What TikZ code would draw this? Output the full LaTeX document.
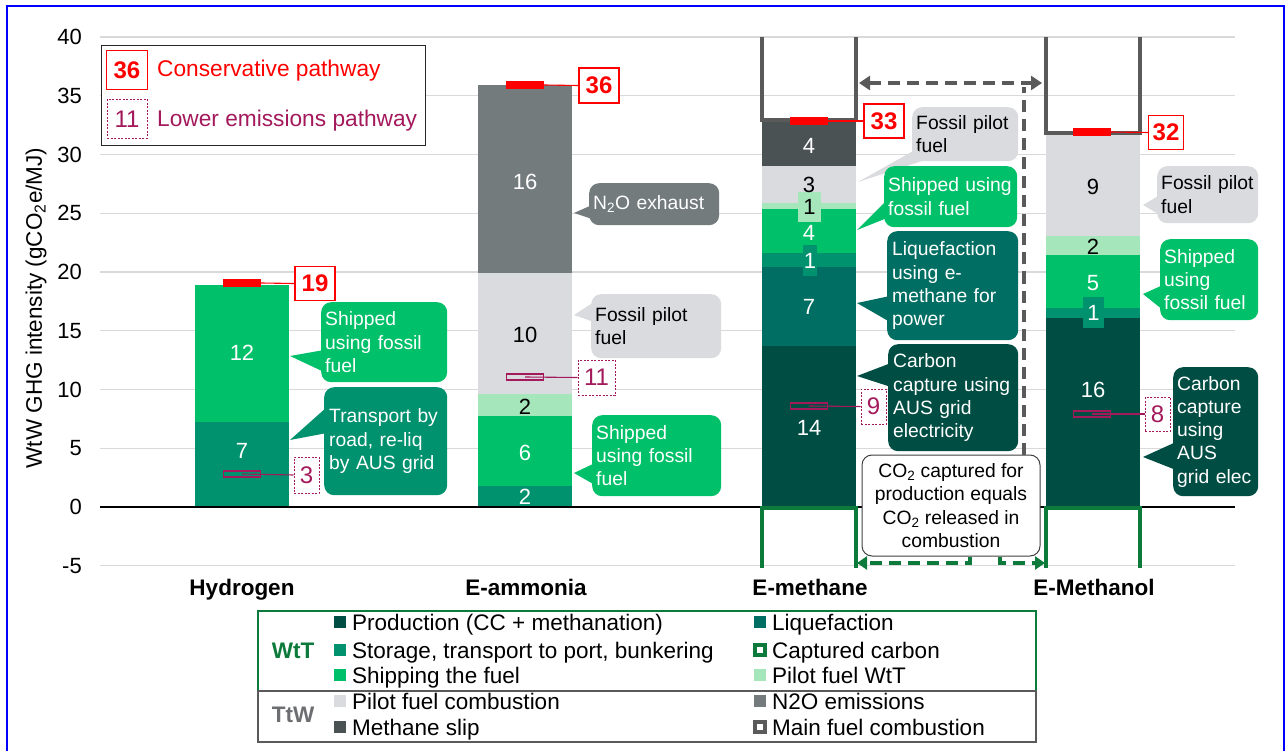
\documentclass[tikz,border=0pt]{standalone}
\usepackage{fontspec}
\setmainfont{Liberation Sans}
\usetikzlibrary{arrows.meta,calc}
\definecolor{cProd}{HTML}{004D43}
\definecolor{cLiq}{HTML}{006E62}
\definecolor{cStor}{HTML}{00916E}
\definecolor{cShip}{HTML}{00C069}
\definecolor{cPilotW}{HTML}{A6E6BB}
\definecolor{cPilotC}{HTML}{D9DBDE}
\definecolor{cNtwo}{HTML}{737B7D}
\definecolor{cSlip}{HTML}{4B5254}
\definecolor{cMain}{HTML}{5A5A5A}
\definecolor{cCap}{HTML}{0B7A3B}
\definecolor{cRed}{HTML}{FF0000}
\definecolor{cLow}{HTML}{A3195B}
\definecolor{cGrid}{HTML}{D9D9D9}
\definecolor{cFrame}{HTML}{0000FF}
\definecolor{cTtw}{HTML}{6D6E71}
\newcommand\fTick{\fontsize{22}{26}\selectfont}
\newcommand\fBar{\fontsize{22}{26}\selectfont}
\newcommand\fCall{\fontsize{19.3}{23.3}\selectfont}
\newcommand\fLeg{\fontsize{22.5}{25.5}\selectfont}
\newcommand\fCat{\fontsize{22.5}{26}\selectfont\bfseries}
\newcommand\fMark{\fontsize{24}{28}\selectfont}
\newcommand\fKey{\fontsize{22.7}{26}\selectfont}
\newcommand\fYlab{\fontsize{22.5}{26}\selectfont}
\begin{document}
\begin{tikzpicture}[x=1pt,y=-1pt,
  barlbl/.style={font=\fBar, text=white, inner sep=0pt},
  barlblk/.style={font=\fBar, text=black, inner sep=0pt},
  callout/.style={rounded corners=10pt, anchor=north west, inner xsep=4pt, inner ysep=0pt, align=left, font=\fCall},
  redmark/.style={fill=cRed, minimum width=38pt, minimum height=8pt, inner sep=0pt},
  redbox/.style={draw=cRed, line width=1.1pt, fill=white, text=cRed, font=\fMark\bfseries, minimum width=40pt, minimum height=34pt, inner sep=0pt},
  lowmark/.style={draw=cLow, line width=1.1pt, minimum width=37pt, minimum height=6pt, inner sep=0pt},
  lowbox/.style={draw=cLow, dash pattern=on 2pt off 1.5pt, line width=1pt, fill=white, text=cLow, font=\fMark, minimum width=25pt, minimum height=35pt, inner sep=0pt},
  cat/.style={font=\fCat, anchor=base, inner sep=0pt},
  legsq/.style={minimum size=12pt, inner sep=0pt},
  legbox/.style={draw, line width=3.5pt, fill=white, minimum size=10pt, inner sep=0pt},
  legtxt/.style={anchor=base west, inner sep=0pt, font=\fLeg},
  mainU/.style={cMain, line width=4pt},
  capU/.style={cCap, line width=4pt},
  gdash/.style={line width=4pt, dash pattern=on 12pt off 7pt}
]
\useasboundingbox (0,0) rectangle (1287,751);
\clip (0,0) rectangle (1287,751);
\fill[white] (0,0) rectangle (1287,751);
\draw[cFrame, line width=2.5pt] (7,780) -- (7,6) -- (1284,6) -- (1284,780);

% grid and ticks
\foreach \v in {-5,5,10,...,40} {\draw[cGrid, line width=1.3pt] (100,{507-11.75*\v}) -- (1235,{507-11.75*\v});}
\foreach \v in {-5,0,5,10,15,20,25,30,35,40} {\node[anchor=east, font=\fTick, inner sep=0pt] at (82,{507-11.75*\v}) {\v};}
\node[rotate=90, font=\fYlab, inner sep=0pt] (ylab) at (36,308) {WtW GHG intensity (gCO\textsubscript{2}e/MJ)};

% Hydrogen bar
\fill[cStor] (195,507) rectangle (289,422);
\fill[cShip] (195,422) rectangle (289,285);
\node[barlbl] (h2a) at (242,353) {12};
\node[barlbl] (h2b) at (242,451) {7};

% E-ammonia bar
\fill[cStor] (478,507) rectangle (572,486);
\fill[cShip] (478,486) rectangle (572,416);
\fill[cPilotW] (478,416) rectangle (572,394);
\fill[cPilotC] (478,394) rectangle (572,273);
\fill[cNtwo] (478,273) rectangle (572,85);
\node[barlbl] (nha) at (525,497) {2};
\node[barlbl] (nhb) at (525,453) {6};
\node[barlblk] (nhc) at (525,407) {2};
\node[barlblk] (nhd) at (525,335) {10};
\node[barlbl] (nhe) at (525,182) {16};

% E-methane bar
\fill[cProd] (762,507) rectangle (856,346);
\fill[cLiq] (762,346) rectangle (856,267);
\fill[cStor] (762,267) rectangle (856,253);
\fill[cShip] (762,253) rectangle (856,209);
\fill[cPilotW] (762,209) rectangle (856,203);
\fill[cPilotC] (762,203) rectangle (856,166);
\fill[cSlip] (762,166) rectangle (856,120);
\node[barlbl] (mea) at (809,428) {14};
\node[barlbl] (meb) at (809,307) {7};
\node[fill=cStor, text=white, minimum width=14pt, minimum height=31pt, inner sep=0pt, font=\fBar] (mec) at (810,261) {1};
\node[barlbl] (med) at (809,233) {4};
\node[fill=cPilotW, text=black, minimum width=23pt, minimum height=30pt, inner sep=0pt, font=\fBar] (mee) at (809.5,207) {1};
\node[barlblk] (mef) at (809,185) {3};
\node[barlbl] (meg) at (809,146) {4};

% E-methanol bar
\fill[cProd] (1046,507) rectangle (1140,318);
\fill[cStor] (1046,318) rectangle (1140,308);
\fill[cShip] (1046,308) rectangle (1140,255);
\fill[cPilotW] (1046,255) rectangle (1140,236);
\fill[cPilotC] (1046,236) rectangle (1140,133);
\node[barlbl] (moa) at (1093,390) {16};
\node[fill=cStor, text=white, minimum width=21pt, minimum height=31pt, inner sep=0pt, font=\fBar] (mob) at (1093.5,312.5) {1};
\node[barlbl] (moc) at (1093,283) {5};
\node[barlblk] (mod) at (1093,247) {2};
\node[barlblk] (moe) at (1093,187) {9};

% zero axis
\draw[black, line width=2pt] (100,507) -- (1235,507);

% main fuel combustion outlines
\draw[mainU] (762,37) -- (762,120) -- (856,120) -- (856,37);
\draw[mainU] (1046,37) -- (1046,133) -- (1140,133) -- (1140,37);
% captured carbon outlines
\draw[capU] (762,568) -- (762,508) -- (856,508) -- (856,568);
\draw[capU] (1046,568) -- (1046,508) -- (1140,508) -- (1140,568);

% red conservative markers
\node[redmark] (rm19) at (242,283) {};
\node[redbox] (rb19) at (315,283.5) {19};
\draw[cRed, line width=1.1pt] (rm19.east) -- (rb19.west);
\node[redmark] (rm36) at (525,85) {};
\node[redbox, minimum height=35pt] (rb36) at (599,85.5) {36};
\draw[cRed, line width=1.1pt] (rm36.east) -- (rb36.west);
\node[redmark] (rm33) at (809,121) {};
\node[redbox] (rb33) at (884,121) {33};
\draw[cRed, line width=1.1pt] (rm33.east) -- (rb33.west);
\node[redmark] (rm32) at (1092,132) {};
\node[redbox, minimum width=35pt] (rb32) at (1166,132.5) {32};
\draw[cRed, line width=1.1pt] (rm32.east) -- (rb32.west);

% lower emissions markers
\node[lowmark] (lm3) at (242,474) {};
\node[lowbox, minimum height=36pt] (lb3) at (306.5,475) {3};
\draw[cLow, line width=1.1pt] (lm3.center) -- (lb3.west);
\node[lowmark] (lm11) at (525,377) {};
\node[lowbox, minimum width=37pt] (lb11) at (596.5,377.5) {11};
\draw[cLow, line width=1.1pt] (lm11.center) -- (lb11.west);
\node[lowmark] (lm9) at (809,406) {};
\node[lowbox] (lb9) at (873.5,406.5) {9};
\draw[cLow, line width=1.1pt] (lm9.center) -- (lb9.west);
\node[lowmark] (lm8) at (1092,414) {};
\node[lowbox, minimum height=34pt] (lb8) at (1157.5,414) {8};
\draw[cLow, line width=1.1pt] (lm8.center) -- (lb8.west);

% callouts - hydrogen
\node[callout, fill=cShip, text=white, text width=118pt, minimum height=80pt] (h2ship) at (321,302) {Shipped\\using fossil\\fuel};
\coordinate (t1) at (290,356);
\fill[cShip] (t1) -- ($(h2ship.north west)+(3,48)$) -- ($(h2ship.north west)+(3,70)$) -- cycle;
\node[callout, fill=cStor, text=white, text width=113pt, minimum height=108pt, inner xsep=5pt] (h2trans) at (324,387) {Transport by\\road, re-liq\\by AUS grid};
\coordinate (t2) at (290,440);
\fill[cStor] (t2) -- ($(h2trans.north west)+(3,20)$) -- ($(h2trans.north west)+(3,46)$) -- cycle;

% callouts - ammonia
\node[callout, fill=cNtwo, text=white, text width=122pt, minimum height=42pt] (nhn) at (589,183) {N\textsubscript{2}O exhaust};
\coordinate (t3) at (574,213);
\fill[cNtwo] (t3) -- ($(nhn.north west)+(3,22)$) -- ($(nhn.north west)+(3,36)$) -- cycle;
\node[callout, fill=cPilotC, text=black, text width=122pt, minimum height=64pt] (nhp) at (591,294) {Fossil pilot\\fuel};
\coordinate (t4) at (574,315);
\fill[cPilotC] (t4) -- ($(nhp.north west)+(3,8)$) -- ($(nhp.north west)+(3,28)$) -- cycle;
\node[callout, fill=cShip, text=white, text width=121pt, minimum height=81pt] (nhs) at (592,415) {Shipped\\using fossil\\fuel};
\coordinate (t5) at (574,473);
\fill[cShip] (t5) -- ($(nhs.north west)+(3,48)$) -- ($(nhs.north west)+(3,70)$) -- cycle;

% callouts - methane
\node[callout, fill=cPilotC, text=black, text width=98pt, minimum height=54pt] (mep) at (912,107) {Fossil pilot\\fuel};
\coordinate (t6) at (858,182);
\fill[cPilotC] (t6) -- ($(mep.south west)+(4,-12)$) -- ($(mep.south west)+(18,-3)$) -- cycle;
\node[callout, fill=cShip, text=white, text width=125pt, minimum height=61pt] (mes) at (884,166) {Shipped using\\fossil fuel};
\coordinate (t7) at (857,230);
\fill[cShip] (t7) -- ($(mes.north west)+(3,34)$) -- ($(mes.north west)+(3,52)$) -- cycle;
\node[callout, fill=cLiq, text=white, text width=121pt, minimum height=109pt, inner xsep=5pt] (mel) at (887,231) {Liquefaction\\using e-\\methane for\\power};
\coordinate (t8) at (857,303);
\fill[cLiq] (t8) -- ($(mel.north west)+(3,65)$) -- ($(mel.north west)+(3,91)$) -- cycle;
\node[callout, fill=cProd, text=white, text width=120pt, minimum height=107pt, inner xsep=5pt] (mecc) at (888,344) {Carbon\\capture using\\AUS grid\\electricity};
\coordinate (t9) at (857,376);
\fill[cProd] (t9) -- ($(mecc.north west)+(3,19)$) -- ($(mecc.north west)+(3,43)$) -- cycle;

% callouts - methanol
\node[callout, fill=cPilotC, text=black, text width=93pt, minimum height=57pt] (mop) at (1157,166) {Fossil pilot\\fuel};
\coordinate (t10) at (1143,205);
\fill[cPilotC] (t10) -- ($(mop.north west)+(3,29)$) -- ($(mop.north west)+(3,49)$) -- cycle;
\node[callout, fill=cShip, text=white, text width=90pt, minimum height=81pt] (mos) at (1160,239) {Shipped\\using\\fossil fuel};
\coordinate (t11) at (1143,294);
\fill[cShip] (t11) -- ($(mos.north west)+(3,46)$) -- ($(mos.north west)+(3,71)$) -- cycle;
\node[callout, fill=cProd, text=white, text width=77pt, minimum height=129pt] (mocc) at (1173,367) {Carbon\\capture\\using\\AUS\\grid elec};
\coordinate (t12) at (1143,457);
\fill[cProd] (t12) -- ($(mocc.north west)+(3,75)$) -- ($(mocc.north west)+(3,103)$) -- cycle;

% CO2 note and dashed connectors
\node[draw=black!75, line width=1pt, fill=white, rounded corners=10pt, minimum width=178pt, minimum height=101pt, inner sep=0pt, align=center, font=\fCall] (co2) at (951,505.5) {CO\textsubscript{2} captured for\\production equals\\CO\textsubscript{2} released in\\combustion};
\coordinate (gaL) at (859,83);
\coordinate (gaR) at (1042,83);
\coordinate (gv) at (1024,87);
\draw[cMain, gdash, {Triangle[length=11pt,width=14pt]}-{Triangle[length=11pt,width=14pt]}] (gaL) -- (gaR);
\draw[cMain, gdash] (co2.north -| gv) -- (gv);
\coordinate (gnL) at (857,563);
\coordinate (gnR) at (1045,563);
\draw[cCap, gdash, -{Triangle[length=10pt,width=13pt]}] ($(co2.south)+(19,0)$) |- (gnL);
\draw[cCap, gdash, -{Triangle[length=10pt,width=13pt]}] ($(co2.south)+(49,0)$) |- (gnR);

% categories
\node[cat] (catH) at (242,595) {Hydrogen};
\node[cat] (catA) at (526,595) {E-ammonia};
\node[cat] (catM) at (810,595) {E-methane};
\node[cat] (catO) at (1094,595) {E-Methanol};

% top-left key
\node[draw=black!85, line width=1.3pt, fill=white, minimum width=324pt, minimum height=100pt, anchor=north west, inner sep=0pt] (key) at (101,45) {};
\node[redbox, minimum width=41pt, minimum height=39pt] (key36) at (127,70) {36};
\node[anchor=base west, inner sep=0pt, font=\fKey, text=cRed] (keyC) at (157,77) {Conservative pathway};
\node[lowbox, minimum width=40pt, minimum height=39pt] (key11) at (127,119) {11};
\node[anchor=base west, inner sep=0pt, font=\fKey, text=cLow] (keyL) at (157,127) {Lower emissions pathway};

% bottom legend
\node[draw=cCap, line width=1.5pt, minimum width=778pt, minimum height=80pt, anchor=north west, inner sep=0pt] (wtt) at (257,610) {};
\node[draw=cMain, line width=1.5pt, minimum width=778pt, minimum height=51pt, anchor=north west, inner sep=0pt] (ttw) at (257,690) {};
\node[font=\fCat, text=cCap, inner sep=0pt] (wttl) at (293,651) {WtT};
\node[font=\fCat, text=cTtw, inner sep=0pt] (ttwl) at (293,715) {TtW};
\node[legsq, fill=cProd] (k1) at (340,622) {};
\node[legtxt] (k1t) at (352,630) {Production (CC + methanation)};
\node[legsq, fill=cStor] (k2) at (340,650) {};
\node[legtxt] (k2t) at (352,658) {Storage, transport to port, bunkering};
\node[legsq, fill=cShip] (k3) at (340,675) {};
\node[legtxt] (k3t) at (352,683) {Shipping the fuel};
\node[legsq, fill=cPilotC] (k4) at (340,701) {};
\node[legtxt] (k4t) at (352,709) {Pilot fuel combustion};
\node[legsq, fill=cSlip] (k5) at (340,727) {};
\node[legtxt] (k5t) at (352,735) {Methane slip};
\node[legsq, fill=cLiq] (k6) at (760,622) {};
\node[legtxt] (k6t) at (772,630) {Liquefaction};
\node[legbox, draw=cCap] (k7) at (760,650) {};
\node[legtxt] (k7t) at (772,658) {Captured carbon};
\node[legsq, fill=cPilotW] (k8) at (760,675) {};
\node[legtxt] (k8t) at (772,683) {Pilot fuel WtT};
\node[legsq, fill=cNtwo] (k9) at (760,701) {};
\node[legtxt] (k9t) at (772,709) {N2O emissions};
\node[legbox, draw=cMain] (k10) at (760,727) {};
\node[legtxt] (k10t) at (772,735) {Main fuel combustion};
\end{tikzpicture}
\end{document}
